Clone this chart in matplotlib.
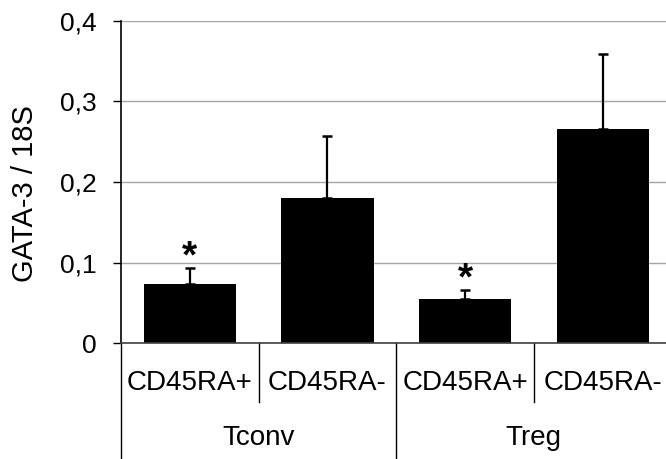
import matplotlib
matplotlib.use("Agg")
import matplotlib.pyplot as plt
from matplotlib.ticker import FuncFormatter
import matplotlib.transforms as mtransforms

plt.rcParams['font.family'] = ['Liberation Sans', 'DejaVu Sans']

# Data
subsets = ["CD45RA+", "CD45RA-", "CD45RA+", "CD45RA-"]
groups = ["Tconv", "Treg"]
means = [0.073, 0.180, 0.055, 0.266]
errors = [0.020, 0.077, 0.011, 0.092]
significant = [True, False, True, False]
yticks = [0, 0.1, 0.2, 0.3, 0.4]

W, H = 666, 459
fig = plt.figure(figsize=(W / 100, H / 100), dpi=100)
ax_left, ax_right, ax_top, ax_bottom = 121, 671.5, 20.6, 343.3
ax = fig.add_axes([ax_left / W, 1 - ax_bottom / H,
                   (ax_right - ax_left) / W, (ax_bottom - ax_top) / H])

x = list(range(len(means)))
ax.bar(x, means, width=0.67, color="black", zorder=3)
ax.errorbar(x, means, yerr=[[0] * len(errors), errors], fmt="none",
            ecolor="black", elinewidth=1.6, capsize=3.3, capthick=1.8, zorder=4)

for xi, m, e, s in zip(x, means, errors, significant):
    if s:
        ax.annotate("*", (xi, m + e), xytext=(0, -5.5), textcoords="offset points",
                    ha="center", va="bottom", fontsize=28, fontweight="bold")

ax.set_xlim(-0.5, 3.5)
ax.set_ylim(0, 0.4)
ax.set_yticks(yticks)
ax.yaxis.set_major_formatter(FuncFormatter(
    lambda v, p: "0" if v == 0 else f"{v:.1f}".replace(".", ",")))
ax.tick_params(axis="y", direction="out", length=5.5, width=1, pad=12,
               labelsize=19, color="black")
ax.tick_params(axis="x", length=0, labelbottom=False)
ax.grid(axis="y", color="#a6a6a6", linewidth=1.0, zorder=0)
ax.set_axisbelow(True)

for side in ("top", "right"):
    ax.spines[side].set_visible(False)
ax.spines["left"].set_color("black")
ax.spines["left"].set_linewidth(1.2)
ax.spines["bottom"].set_color("#404040")
ax.spines["bottom"].set_linewidth(1.2)
ax.spines["bottom"].set_zorder(5)

# Two-level category axis
trans = mtransforms.blended_transform_factory(ax.transData, ax.transAxes)
ax_h = ax_bottom - ax_top
short_end = -(401.7 - ax_bottom) / ax_h
long_end = -(H - ax_bottom) / ax_h
for xs in (0.5, 2.5):
    ax.plot([xs, xs], [0, short_end], transform=trans, color="black",
            lw=1.0, clip_on=False)
for xs in (-0.5, 1.5, 3.5):
    ax.plot([xs, xs], [0, long_end], transform=trans, color="black",
            lw=1.0, clip_on=False)

sub_y = -(383 - ax_bottom) / ax_h
grp_y = -(438 - ax_bottom) / ax_h
for xi, lab in zip(x, subsets):
    ax.text(xi, sub_y, lab, transform=trans, ha="center", va="center", fontsize=20)
for gi, lab in enumerate(groups):
    ax.text(2 * gi + 0.5, grp_y, lab, transform=trans, ha="center", va="center",
            fontsize=20)

fig.text(25 / W, 1 - 194 / H, "GATA-3 / 18S", rotation=90, ha="center",
         va="center", fontsize=21)

fig.savefig("out.png", dpi=100)
